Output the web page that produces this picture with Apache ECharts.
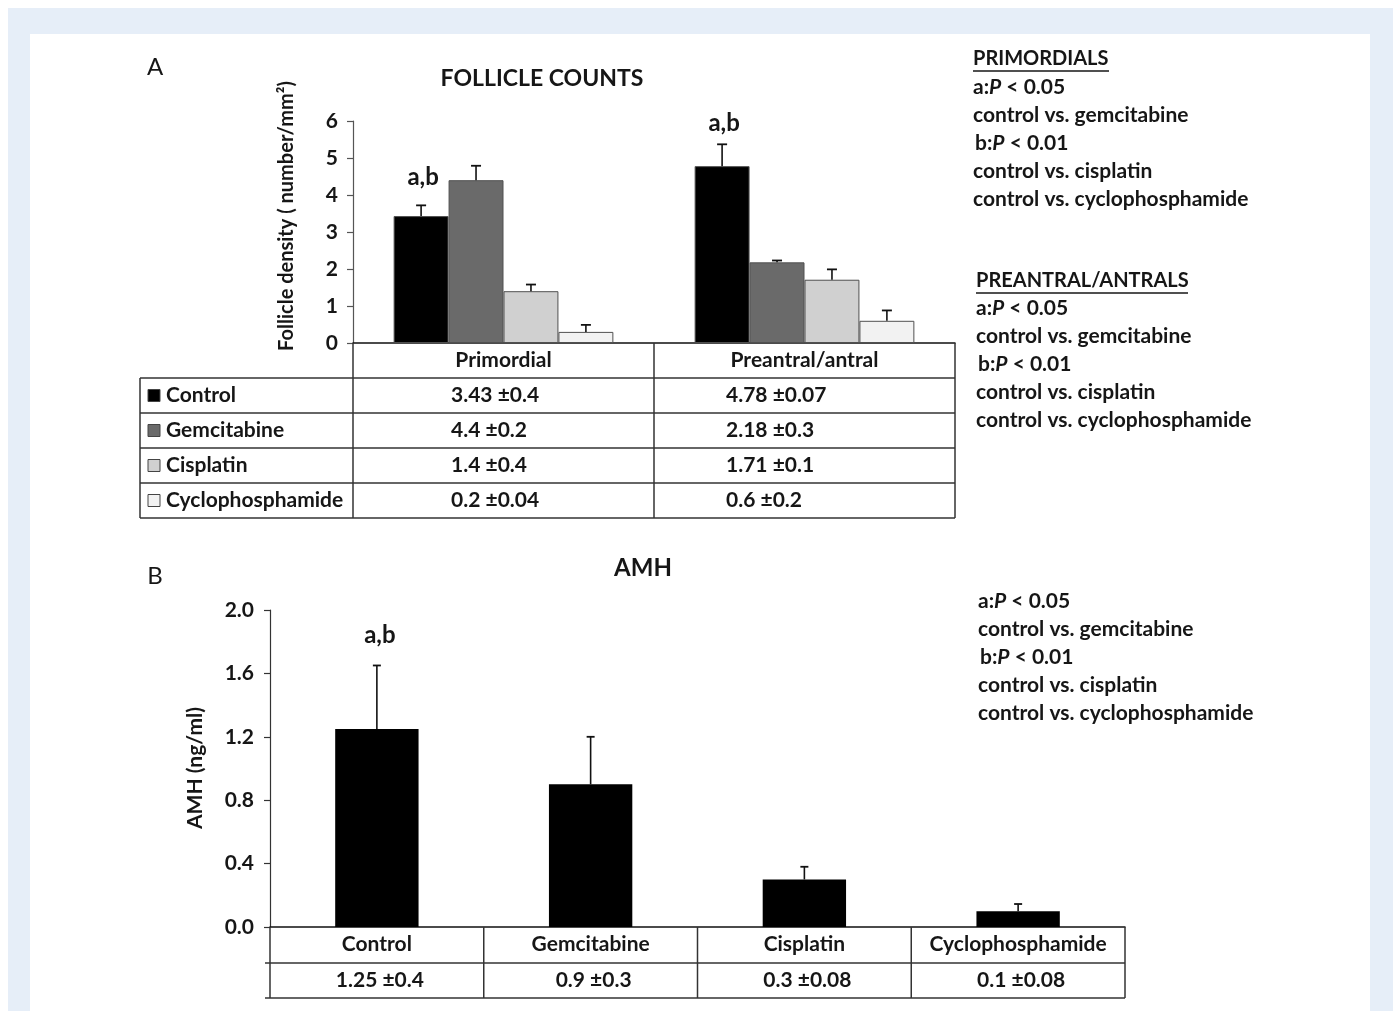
<!DOCTYPE html>
<html><head><meta charset="utf-8">
<script src="https://cdn.jsdelivr.net/npm/echarts@6/dist/echarts.min.js"></script>
<style>html,body{margin:0;padding:0;background:#fff}#c{width:1393px;height:1011px}</style>
</head><body><div id="c"></div>
<script>
// ---------- DATA ----------
const follicleCategories = ['Primordial', 'Preantral/antral'];
const treatments = ['Control', 'Gemcitabine', 'Cisplatin', 'Cyclophosphamide'];
const controlCounts = [3.43, 4.78];
const gemcitabineCounts = [4.4, 2.18];
const cisplatinCounts = [1.4, 1.71];
const cyclophosphamideCounts = [0.3, 0.6];
const controlCountErr = [0.29, 0.59];
const gemcitabineCountErr = [0.39, 0.05];
const cisplatinCountErr = [0.18, 0.28];
const cyclophosphamideCountErr = [0.19, 0.28];
const countSigLabels = ['a,b', 'a,b'];
const countSigLabelY = [4.48, 5.95];
const primordialText = ['3.43 \u00b10.4', '4.4 \u00b10.2', '1.4 \u00b10.4', '0.2 \u00b10.04'];
const preantralText = ['4.78 \u00b10.07', '2.18 \u00b10.3', '1.71 \u00b10.1', '0.6 \u00b10.2'];
const countTicks = { min: 0, max: 6, interval: 1 };

const amhCategories = ['Control', 'Gemcitabine', 'Cisplatin', 'Cyclophosphamide'];
const amhValues = [1.25, 0.9, 0.3, 0.1];
const amhErr = [0.4, 0.3, 0.08, 0.045];
const amhText = ['1.25 \u00b10.4', '0.9 \u00b10.3', '0.3 \u00b10.08', '0.1 \u00b10.08'];
const amhSigLabel = 'a,b';
const amhSigLabelY = 1.84;
const amhTicks = { min: 0, max: 2, interval: 0.4 };

const statLines = ['a:|P| < 0.05', 'control vs. gemcitabine', 'b:|P| < 0.01', 'control vs. cisplatin', 'control vs. cyclophosphamide'];

// ---------- STYLE / LAYOUT ----------
const FONT = 'Lato, "Open Sans", sans-serif';
const INK = '#161616';
const LINE = '#333';
const TXT = 21;
const barColors = ['#000000', '#6a6a6a', '#d0d0d0', '#f2f2f2'];
const GA = { left: 353, top: 121, width: 602, height: 222 };
const GB = { left: 270, top: 610, width: 855, height: 317 };
const gapA = 0.27;

const countSeries = [controlCounts, gemcitabineCounts, cisplatinCounts, cyclophosphamideCounts];
const countErrs = [controlCountErr, gemcitabineCountErr, cisplatinCountErr, cyclophosphamideCountErr];

const graphic = [];
function line(x1, y1, x2, y2, w, c) {
  graphic.push({ type: 'line', shape: { x1, y1, x2, y2 }, style: { stroke: c || LINE, lineWidth: w || 1.5 }, z: 10 });
}
function text(t, x, y, opt) {
  opt = opt || {};
  graphic.push({
    type: 'text', x, y, rotation: opt.rotation || 0, z: 11,
    style: {
      text: t, fill: INK, textAlign: opt.align || 'left', textVerticalAlign: 'middle',
      font: (opt.weight || 'bold') + ' ' + (opt.size || TXT) + 'px ' + FONT,
      rich: opt.rich
    }
  });
}
// frame background
graphic.push({ type: 'rect', shape: { x: 8, y: 8, width: 1385, height: 1003 }, style: { fill: '#e6eef8' }, z: -10 });
graphic.push({ type: 'rect', shape: { x: 30, y: 34, width: 1340, height: 977 }, style: { fill: '#ffffff' }, z: -9 });

// panel letters & titles
text('A', 155, 67, { weight: 'normal', size: 24, align: 'center' });
text('B', 155, 576, { weight: 'normal', size: 24, align: 'center' });
text('FOLLICLE COUNTS', 542, 79, { size: 23, align: 'center' });
text('AMH', 643, 568, { size: 24, align: 'center' });
text('Follicle density ( number/mm\u00b2)', 287, 216, { size: 20, align: 'center', rotation: Math.PI / 2 });
text('AMH (ng/ml)', 195, 768, { size: 21, align: 'center', rotation: Math.PI / 2 });

// ---- Table A ----
const aBase = GA.top + GA.height;     // 343
const rowH = 35;
const aLeft = 140, aRight = GA.left + GA.width, aMid = GA.left + GA.width / 2;
for (let i = 1; i <= 5; i++) line(aLeft, aBase + rowH * i, aRight, aBase + rowH * i);
line(aLeft, aBase + rowH, aLeft, aBase + rowH * 5);
[GA.left, aMid, aRight].forEach(x => line(x, aBase, x, aBase + rowH * 5));
treatments.forEach((t, i) => {
  const cy = aBase + rowH * (i + 1.5);
  graphic.push({ type: 'rect', shape: { x: 148, y: cy - 6, width: 12, height: 12 },
    style: { fill: barColors[i], stroke: '#444', lineWidth: 1 }, z: 11 });
  text(t, 166, cy, {});
  text(primordialText[i], 451, cy, {});
  text(preantralText[i], 726, cy, {});
});

// ---- Table B ----
const bBase = GB.top + GB.height;      // 927
const bRow1 = bBase + 36, bRow2 = bBase + 71;
line(GB.left - 5, bRow1, GB.left + GB.width, bRow1);
line(GB.left - 5, bRow2, GB.left + GB.width, bRow2);
for (let k = 0; k <= 4; k++) {
  const x = GB.left + GB.width / 4 * k;
  line(x, bBase, x, bRow2);
}
amhText.forEach((t, i) => {
  text(t, GB.left + GB.width / 4 * (i + 0.5) + 3, (bRow1 + bRow2) / 2, { align: 'center' });
});

// ---- stats annotations ----
const rich = {
  n: { fontFamily: FONT, fontWeight: 'bold', fontSize: TXT, fill: INK },
  i: { fontFamily: FONT, fontWeight: 'bold', fontStyle: 'italic', fontSize: TXT, fill: INK }
};
function statBlock(x, y0, dy) {
  statLines.forEach((s, k) => {
    let t;
    if (s.indexOf('|P|') >= 0) {
      const parts = s.split('|P|');
      t = '{n|' + parts[0] + '}{i|P}{n|' + parts[1] + '}';
    } else t = '{n|' + s + '}';
    text(t, x + (k === 2 ? 2 : 0), y0 + dy * k, { rich });
  });
}
text('PRIMORDIALS', 973, 59, { size: 20 });
line(973, 71, 1109, 71, 1.5, INK);
statBlock(973, 87, 28);
text('PREANTRAL/ANTRALS', 976, 281, { size: 20 });
line(976, 293, 1188, 293, 1.5, INK);
statBlock(976, 308, 28);
statBlock(978, 601, 28);

// ---------- CHART ----------
const chart = echarts.init(document.getElementById('c'), null, { renderer: 'canvas' });

const axisLbl = { color: INK, fontFamily: FONT, fontWeight: 'bold', fontSize: TXT };

const barSeriesA = treatments.map((t, i) => ({
  name: t, type: 'bar', xAxisIndex: 0, yAxisIndex: 0,
  data: countSeries[i], barGap: '0%', barCategoryGap: (gapA * 100) + '%',
  itemStyle: { color: barColors[i], borderColor: '#505050', borderWidth: 1 },
  silent: true, animation: false
}));

const errDataA = [];
countSeries.forEach((arr, s) => arr.forEach((v, c) => errDataA.push([c, s, v, countErrs[s][c]])));

const errSeriesA = {
  type: 'custom', xAxisIndex: 0, yAxisIndex: 0, coordinateSystem: 'cartesian2d',
  encode: { x: 0, y: 2 }, data: errDataA, z: 5, animation: false, silent: true,
  renderItem: function (params, api) {
    const c = api.value(0), s = api.value(1), v = api.value(2), e = api.value(3);
    const p0 = api.coord([c, v]), p1 = api.coord([c, v + e]);
    const bw = api.size([1, 0])[0] * (1 - gapA) / 4;
    const x = p0[0] + (s - 1.5) * bw;
    const children = [
      { type: 'line', shape: { x1: x, y1: p0[1], x2: x, y2: p1[1] }, style: { stroke: '#111', lineWidth: 1.6 } },
      { type: 'line', shape: { x1: x - 5, y1: p1[1], x2: x + 5, y2: p1[1] }, style: { stroke: '#111', lineWidth: 1.8 } }
    ];
    if (s === 0) {
      const pl = api.coord([c, countSigLabelY[c]]);
      children.push({ type: 'text', style: { text: countSigLabels[c], x: x + 2, y: pl[1], textAlign: 'center', textVerticalAlign: 'middle',
        font: 'bold 24px ' + FONT, fill: INK } });
    }
    return { type: 'group', children };
  }
};

const barSeriesB = {
  type: 'bar', xAxisIndex: 1, yAxisIndex: 1, data: amhValues, barCategoryGap: '61%',
  itemStyle: { color: '#000' }, silent: true, animation: false
};
const errSeriesB = {
  type: 'custom', xAxisIndex: 1, yAxisIndex: 1, coordinateSystem: 'cartesian2d',
  encode: { x: 0, y: 1 }, data: amhValues.map((v, i) => [i, v, amhErr[i]]), z: 5, animation: false, silent: true,
  renderItem: function (params, api) {
    const c = api.value(0), v = api.value(1), e = api.value(2);
    const p0 = api.coord([c, v]), p1 = api.coord([c, v + e]);
    const x = p0[0];
    const children = [
      { type: 'line', shape: { x1: x, y1: p0[1], x2: x, y2: p1[1] }, style: { stroke: '#111', lineWidth: 1.6 } },
      { type: 'line', shape: { x1: x - 4, y1: p1[1], x2: x + 4, y2: p1[1] }, style: { stroke: '#111', lineWidth: 1.8 } }
    ];
    if (c === 0) {
      const pl = api.coord([c, amhSigLabelY]);
      children.push({ type: 'text', style: { text: amhSigLabel, x: x + 3, y: pl[1], textAlign: 'center', textVerticalAlign: 'middle',
        font: 'bold 24px ' + FONT, fill: INK } });
    }
    return { type: 'group', children };
  }
};

chart.setOption({
  animation: false,
  backgroundColor: 'transparent',
  grid: [
    { left: GA.left, top: GA.top, width: GA.width, height: GA.height, containLabel: false },
    { left: GB.left, top: GB.top, width: GB.width, height: GB.height, containLabel: false }
  ],
  xAxis: [
    { type: 'category', gridIndex: 0, data: follicleCategories,
      axisLine: { lineStyle: { color: '#111', width: 1.5 } }, axisTick: { show: false },
      axisLabel: Object.assign({ margin: 7, interval: 0, hideOverlap: false }, axisLbl) },
    { type: 'category', gridIndex: 1, data: amhCategories,
      axisLine: { lineStyle: { color: '#111', width: 1.5 } }, axisTick: { show: false },
      axisLabel: Object.assign({ margin: 7, interval: 0, hideOverlap: false }, axisLbl) }
  ],
  yAxis: [
    { type: 'value', gridIndex: 0, min: countTicks.min, max: countTicks.max, interval: countTicks.interval,
      axisLine: { show: true, lineStyle: { color: '#555', width: 1.2 } },
      axisTick: { show: true, length: 6, lineStyle: { color: '#555', width: 1.2 } },
      splitLine: { show: false },
      axisLabel: Object.assign({ margin: 15 }, axisLbl) },
    { type: 'value', gridIndex: 1, min: amhTicks.min, max: amhTicks.max, interval: amhTicks.interval,
      axisLine: { show: true, lineStyle: { color: '#333', width: 1.2 } },
      axisTick: { show: true, length: 6, lineStyle: { color: '#333', width: 1.2 } },
      splitLine: { show: false },
      axisLabel: Object.assign({ margin: 16, formatter: v => v.toFixed(1) }, axisLbl) }
  ],
  series: barSeriesA.concat([errSeriesA, barSeriesB, errSeriesB]),
  graphic: graphic
});
</script></body></html>
